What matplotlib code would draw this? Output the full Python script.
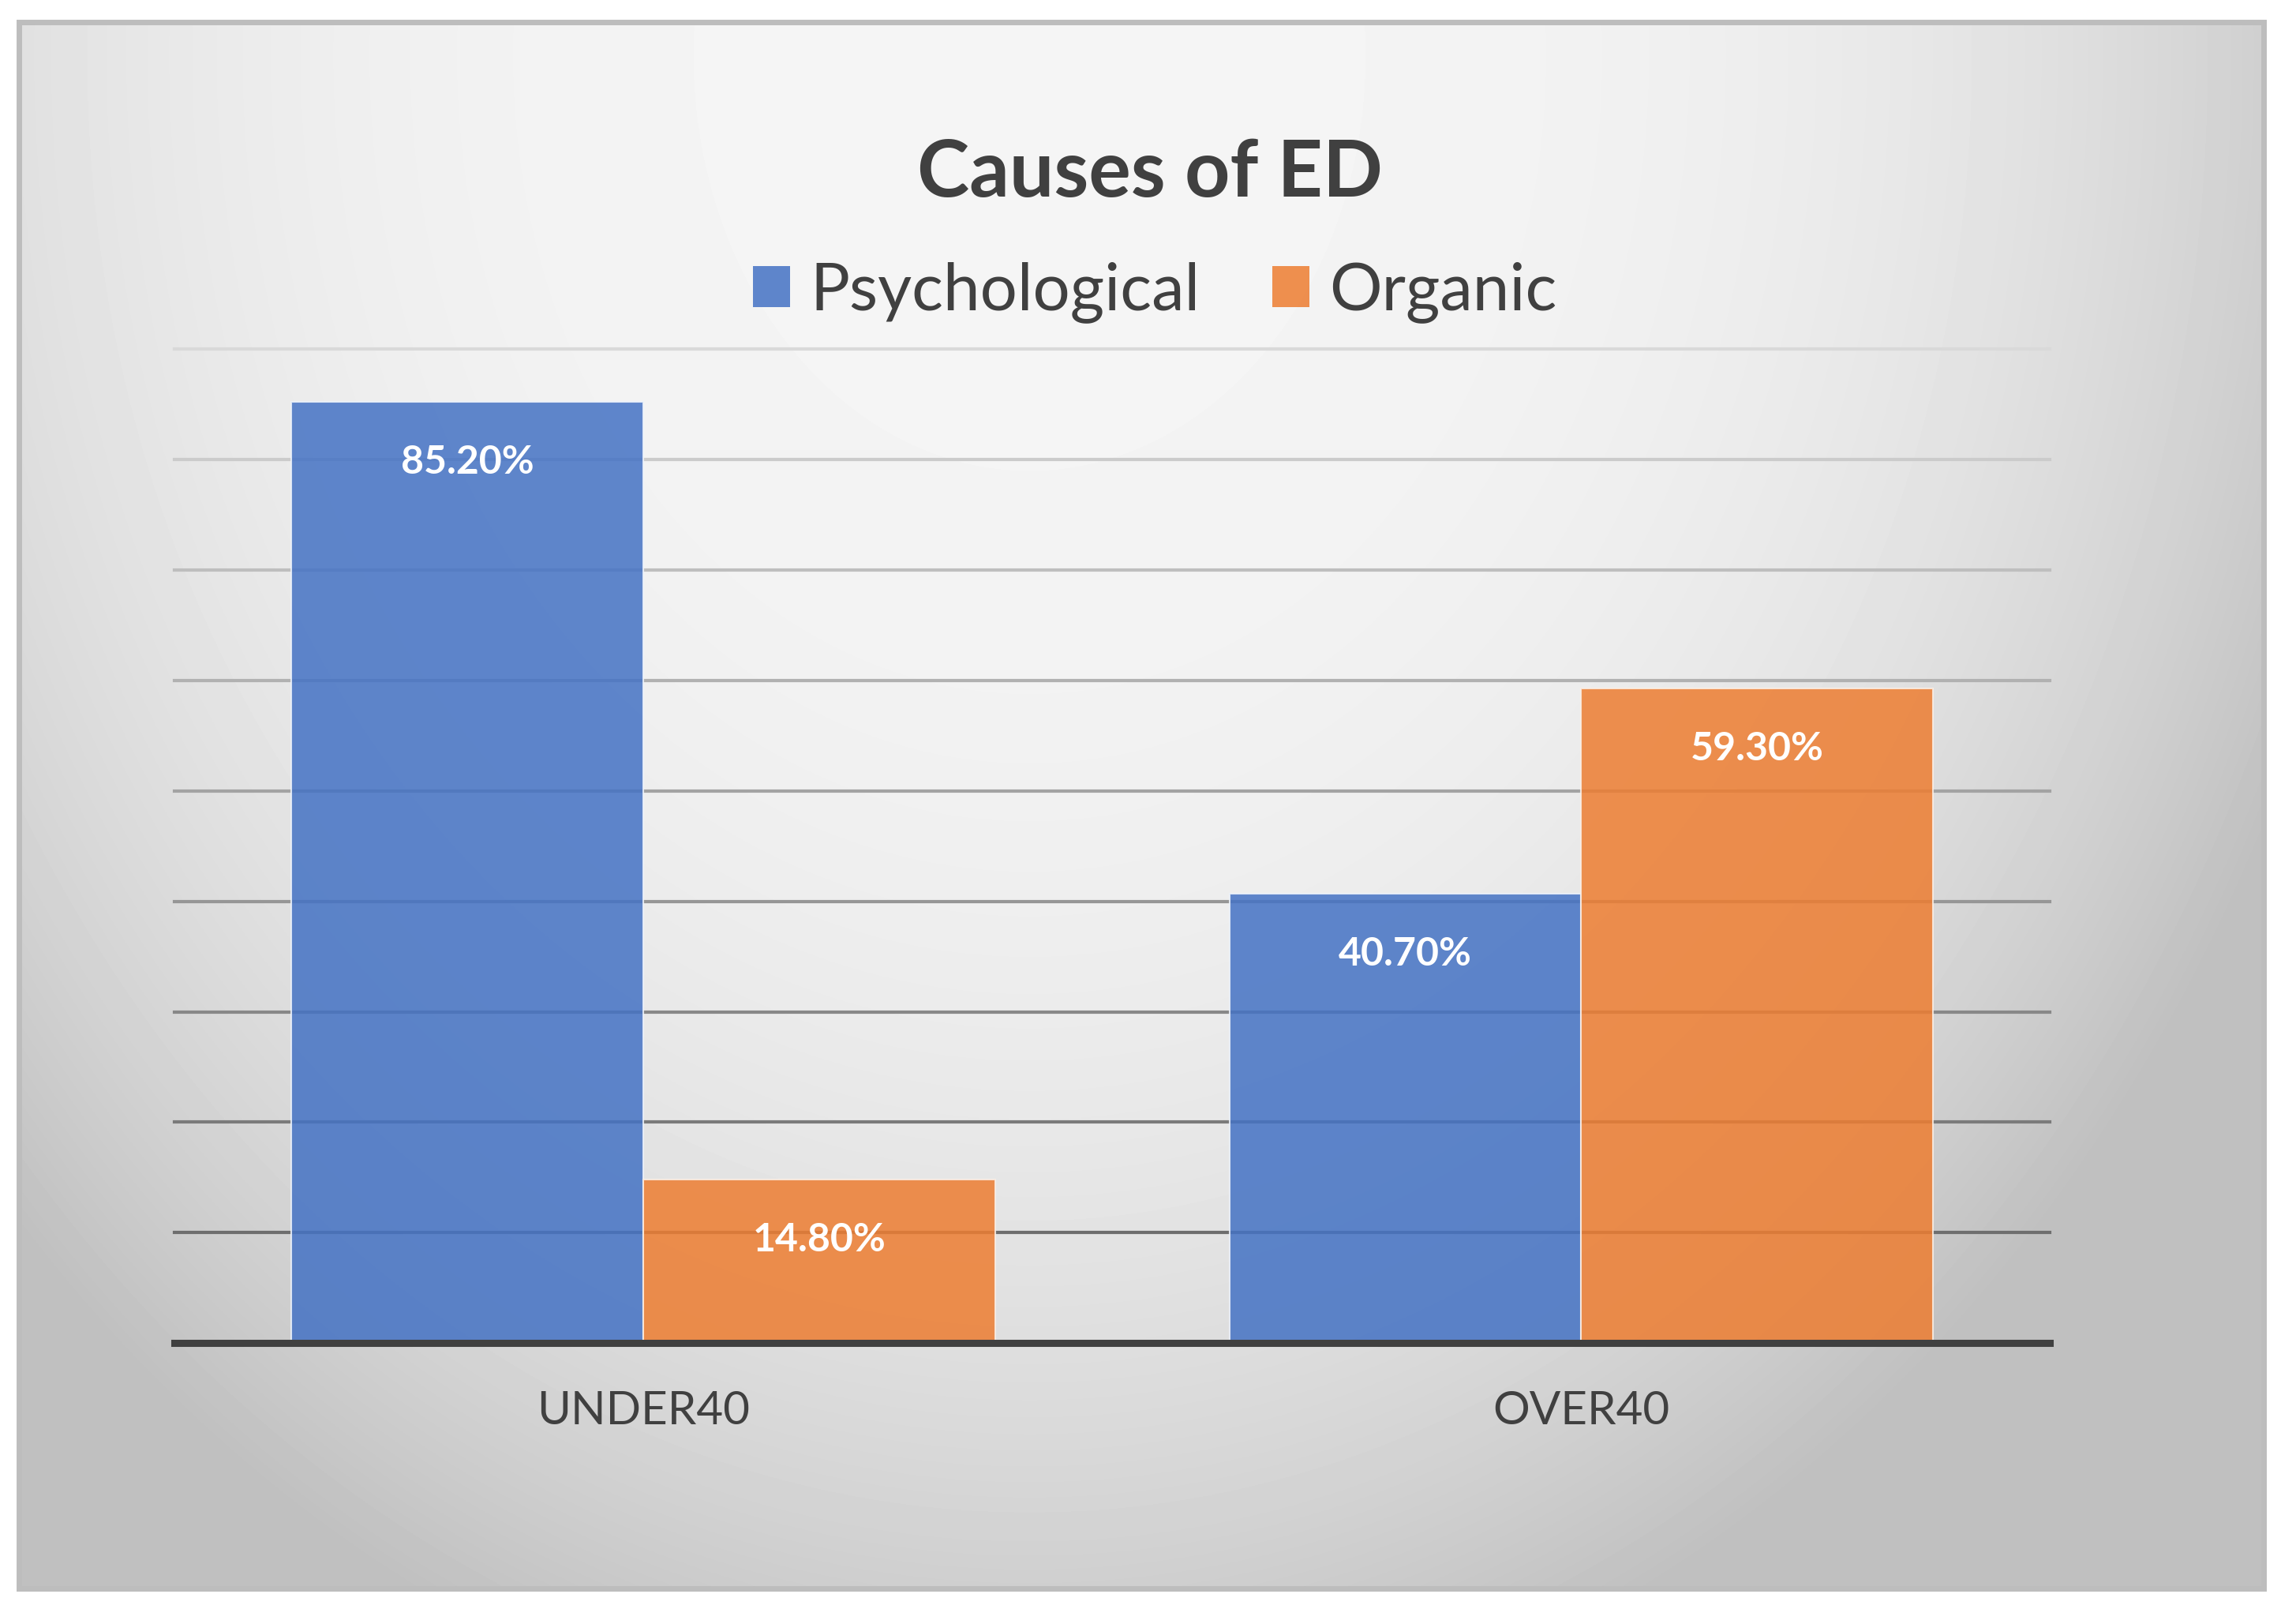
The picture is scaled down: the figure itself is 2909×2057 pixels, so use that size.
import numpy as np
import matplotlib.pyplot as plt
from matplotlib.patches import Rectangle, Patch

plt.rcParams['font.family'] = ['Lato', 'DejaVu Sans']

# data
groups = ['UNDER40', 'OVER40']
series = ['Psychological', 'Organic']
psychological = [85.2, 40.7]
organic = [14.8, 59.3]
colors = ['#4472C4', '#ED7D31']
text_col = '#404040'

fig = plt.figure(figsize=(29.09, 20.57), dpi=100)
fig.patch.set_facecolor('white')

# gradient chart background with a grey frame
bg = fig.add_axes([0.0083, 0.022, 0.9777, 0.9644], zorder=0)
yy, xx = np.mgrid[0:1:400j, 0:1:560j]
d = np.sqrt(((xx - 0.45) / 0.62) ** 2 + ((yy - 0.02) / 1.1) ** 2)
d = np.clip(d, 0, 1) ** 3.0
shade = 0.96 - (0.96 - 0.75) * d
bg.imshow(shade, cmap='gray', vmin=0, vmax=1, extent=(0, 1, 1, 0),
          aspect='auto', interpolation='bicubic')
bg.set_xlim(0, 1)
bg.set_ylim(1, 0)
bg.axis('off')
bg.add_patch(Rectangle((0, 0), 1, 1, transform=bg.transAxes, fill=False,
                       edgecolor='#bdbdbd', linewidth=5, clip_on=False))

ax = fig.add_axes([0.0759, 0.173, 0.8170, 0.612], zorder=1)
ax.set_facecolor('none')
x = np.arange(len(groups))
w = 0.375

ax.set_xlim(-0.5, 1.5)
ax.set_ylim(0, 90)
ticks = np.arange(10, 100, 10)
# gridlines get darker towards the bottom like in the original
for i, t in enumerate(ticks):
    g = 0.43 + (0.85 - 0.43) * i / (len(ticks) - 1)
    ax.axhline(t, color=(g, g, g), linewidth=3, zorder=0.5, clip_on=False)
ax.axhline(0, color=text_col, linewidth=6.5, zorder=3, clip_on=False)

b1 = ax.bar(x - w / 2, psychological, w, color=colors[0], alpha=0.85,
            edgecolor='#eef3fb', linewidth=1.5, zorder=2)
b2 = ax.bar(x + w / 2, organic, w, color=colors[1], alpha=0.85,
            edgecolor='#fbefe6', linewidth=1.5, zorder=2)

for bars in (b1, b2):
    for r in bars:
        h = r.get_height()
        ax.annotate(f'{h:.2f}%', xy=(r.get_x() + r.get_width() / 2, h),
                    xytext=(0, -55), textcoords='offset points',
                    ha='center', va='center', color='white',
                    fontsize=36, fontweight='bold', zorder=4)

ax.set_xticks(x)
ax.set_xticklabels(groups, fontsize=42, color=text_col)
ax.set_yticks([])
ax.tick_params(axis='x', length=0, pad=43)
for s in ax.spines.values():
    s.set_visible(False)

fig.text(0.501, 0.893, 'Causes of ED', ha='center', va='center',
         fontsize=72, fontweight='bold', color=text_col)

handles = [Patch(facecolor=c, alpha=0.85, edgecolor='none') for c in colors]
fig.legend(handles, series, loc='center', bbox_to_anchor=(0.503, 0.82),
           ncol=2, frameon=False, fontsize=60, labelcolor=text_col,
           handlelength=0.57, handleheight=0.57, handletextpad=0.3,
           columnspacing=1.1)

fig.savefig('out.png', dpi=100)
